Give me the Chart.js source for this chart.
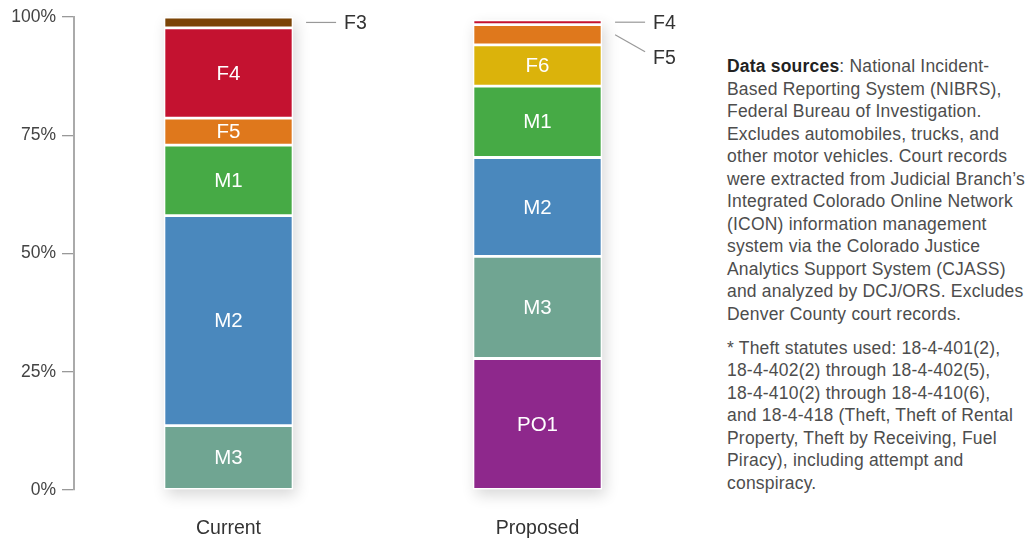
<!DOCTYPE html>
<html>
<head>
<meta charset="utf-8">
<script src="https://cdn.jsdelivr.net/npm/chart.js@4/dist/chart.umd.min.js"></script>
<style>
  html, body { margin: 0; padding: 0; background: #fff; }
  body { width: 1034px; height: 540px; position: relative; overflow: hidden; font-family: "Liberation Sans", Arial, sans-serif; }
  #wrap { position: absolute; left: 0; top: 0; width: 700px; height: 540px; }
  .notes { position: absolute; left: 727px; top: 55px; width: 307px; color: #4d4d4d; font-size: 17.5px; letter-spacing: 0.2px; line-height: 22.5px; }
  .notes p { margin: 0 0 11.5px 0; }
  .notes b { color: #222; }
</style>
</head>
<body>
<div id="wrap"><canvas id="chart" width="700" height="540"></canvas></div>
<div class="notes">
  <p><b>Data sources</b>: National Incident-<br>Based Reporting System (NIBRS),<br>Federal Bureau of Investigation.<br>Excludes automobiles, trucks, and<br>other motor vehicles. Court records<br>were extracted from Judicial Branch’s<br>Integrated Colorado Online Network<br>(ICON) information management<br>system via the Colorado Justice<br>Analytics Support System (CJASS)<br>and analyzed by DCJ/ORS. Excludes<br>Denver County court records.</p>
  <p>* Theft statutes used: 18-4-401(2),<br>18-4-402(2) through 18-4-402(5),<br>18-4-410(2) through 18-4-410(6),<br>and 18-4-418 (Theft, Theft of Rental<br>Property, Theft by Receiving, Fuel<br>Piracy), including attempt and<br>conspiracy.</p>
</div>
<script>
// categorie e valori (% per classe di reato), dal basso verso l'alto
const categories = ['Current', 'Proposed'];
const yTicks = [0, 25, 50, 75, 100];

const po1 = [null, 27.8];
const m3 = [13.6, 21.6];
const m2 = [44.4, 20.9];
const m1 = [14.9, 15.1];
const f6 = [null, 8.7];
const f5 = [5.7, 4.3];
const f4 = [19.1, 1.0];
const f3 = [2.3, null];

// colori
const colors = {
  PO1: '#8e288c',
  M3: '#70a592',
  M2: '#4a88bd',
  M1: '#46aa45',
  F6: '#dbb30b',
  F5: '#df781c',
  F4: '#c41230',
  F3: '#7b4406'
};

// etichette esterne con linea guida
const callouts = [
  { series: 'F3', bar: 0, drop: 0, textDrop: 0 },
  { series: 'F4', bar: 1, drop: 0, textDrop: 0 },
  { series: 'F5', bar: 1, drop: 17, textDrop: 23 }
];

const fontFamily = '"Liberation Sans", Arial, sans-serif';

function makeDataset(label, data) {
  return {
    label: label,
    data: data,
    backgroundColor: colors[label],
    borderColor: '#ffffff',
    borderWidth: 1.4,
    borderSkipped: false
  };
}

// ombra dietro ogni colonna
const barShadow = {
  id: 'barShadow',
  beforeDatasetsDraw(chart) {
    const ctx = chart.ctx;
    chart.data.labels.forEach((_, i) => {
      let top = Infinity, bottom = -Infinity, x = 0, w = 0;
      chart.data.datasets.forEach((ds, d) => {
        const el = chart.getDatasetMeta(d).data[i];
        if (!el || ds.data[i] == null) return;
        top = Math.min(top, el.y, el.base);
        bottom = Math.max(bottom, el.y, el.base);
        x = el.x;
        w = el.width;
      });
      if (!isFinite(top)) return;
      ctx.save();
      ctx.shadowColor = 'rgba(0,0,0,0.16)';
      ctx.shadowBlur = 14;
      ctx.shadowOffsetX = 3;
      ctx.shadowOffsetY = 6;
      ctx.fillStyle = '#ffffff';
      ctx.fillRect(x - w / 2, top, w, bottom - top);
      ctx.restore();
    });
  }
};

// etichette dentro i segmenti + etichette esterne
const segmentLabels = {
  id: 'segmentLabels',
  afterDatasetsDraw(chart) {
    const ctx = chart.ctx;
    ctx.save();
    ctx.textAlign = 'center';
    ctx.textBaseline = 'middle';
    ctx.fillStyle = '#ffffff';
    ctx.font = '20.5px ' + fontFamily;
    chart.data.datasets.forEach((ds, d) => {
      chart.getDatasetMeta(d).data.forEach((el, i) => {
        if (ds.data[i] == null) return;
        const h = Math.abs(el.base - el.y);
        if (h < 24) return;
        ctx.fillText(ds.label, el.x, (el.y + el.base) / 2 + 1);
      });
    });

    ctx.textAlign = 'left';
    ctx.fillStyle = '#333';
    ctx.font = '19.5px ' + fontFamily;
    ctx.strokeStyle = '#999';
    ctx.lineWidth = 1.2;
    callouts.forEach(c => {
      const d = chart.data.datasets.findIndex(ds => ds.label === c.series);
      const el = chart.getDatasetMeta(d).data[c.bar];
      const cy = (el.y + el.base) / 2;
      const x0 = el.x + el.width / 2 + 13;
      const x1 = x0 + 30;
      ctx.beginPath();
      ctx.moveTo(x0, cy);
      ctx.lineTo(x1, cy + c.drop);
      ctx.stroke();
      ctx.fillText(c.series, x1 + 8, cy + c.textDrop + 1);
    });
    ctx.restore();
  }
};

const ctx = document.getElementById('chart').getContext('2d');
const chart = new Chart(ctx, {
  type: 'bar',
  data: {
    labels: categories,
    datasets: [
      makeDataset('PO1', po1),
      makeDataset('M3', m3),
      makeDataset('M2', m2),
      makeDataset('M1', m1),
      makeDataset('F6', f6),
      makeDataset('F5', f5),
      makeDataset('F4', f4),
      makeDataset('F3', f3)
    ]
  },
  options: {
    responsive: false,
    animation: false,
    layout: { padding: { top: 17, right: 8, bottom: 0, left: 0 } },
    datasets: { bar: { barPercentage: 0.418, categoryPercentage: 1 } },
    plugins: {
      legend: { display: false },
      tooltip: { enabled: false }
    },
    scales: {
      x: {
        stacked: true,
        afterFit: s => { s.height = 50; },
        grid: { display: false, drawTicks: false },
        border: { display: false },
        ticks: { color: '#333', font: { size: 19.5, family: fontFamily }, padding: 27 }
      },
      y: {
        stacked: true,
        min: 0,
        max: 100,
        afterBuildTicks: s => { s.ticks = yTicks.map(v => ({ value: v })); },
        afterFit: s => { s.width = 74; },
        ticks: {
          callback: v => v + '%',
          color: '#444',
          font: { size: 17.5, family: fontFamily },
          padding: 6
        },
        grid: { drawOnChartArea: false, tickLength: 12, color: '#999', lineWidth: 1.3 },
        border: { color: '#aaa', width: 2 }
      }
    }
  },
  plugins: [barShadow, segmentLabels]
});
</script>
</body>
</html>
